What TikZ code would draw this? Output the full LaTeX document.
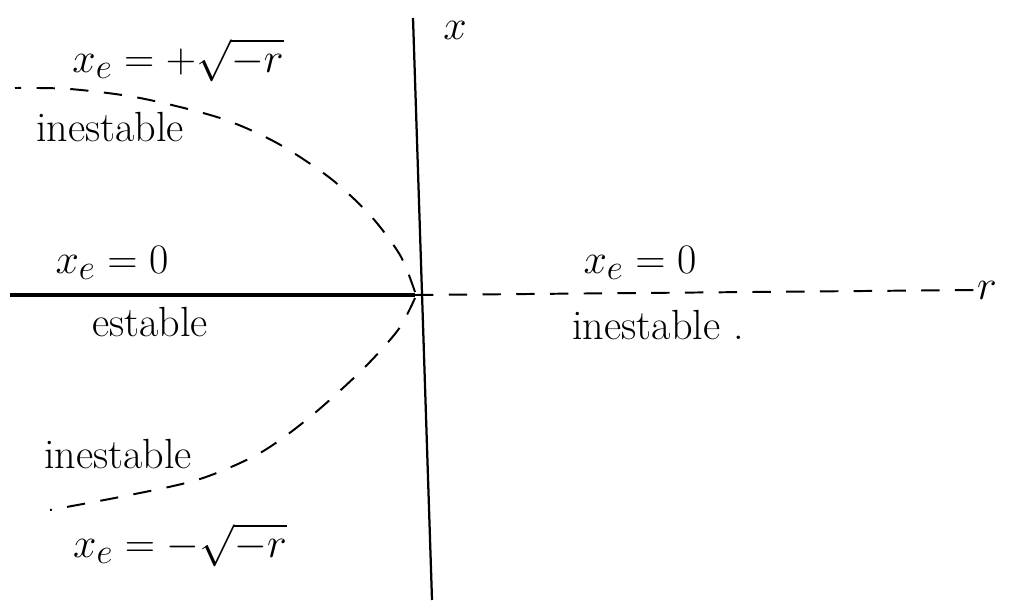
\documentclass[tikz,border=0pt]{standalone}
\usetikzlibrary{positioning}

\begin{document}
\begin{tikzpicture}[x=0.025cm, y=-0.025cm,
    lbl/.style={font=\fontsize{30}{34}\selectfont, inner sep=1pt},
    mlbl/.style={font=\fontsize{24.88}{30}\selectfont, inner sep=1pt, scale=1.2, transform shape},
    axis/.style={line width=1.6pt},
    branch/.style={line width=1.4pt, dash pattern=on 13pt off 11pt}
]
\useasboundingbox (0,0) rectangle (1010,600);

% Ejes
\coordinate (o) at (415,295);
\coordinate (xtop) at (413,18);
\coordinate (xbot) at (432,600);
\coordinate (rleft) at (10,295);
\node (xlab) [mlbl] at (455,30) {$x$};
\node (rlab) [mlbl] at (987,290) {$r$};
\draw[axis] (xtop) -- (xbot);

% Rama x_e = 0
\draw[line width=3.2pt] (rleft) -- (o);
\draw[branch] (o) -- (rlab.west);

% Ramas x_e = +-sqrt(-r)
\draw[branch] plot[smooth] coordinates {(415,292) (400,255) (370,215) (330,178) (277,143) (220,118) (140,98) (70,89) (15,88)};
\draw[branch] plot[smooth] coordinates {(415,298) (398,330) (362,370) (310,417) (260,453) (200,479) (130,495) (50,510)};

% Etiquetas
\node (up) [mlbl] at (178,60) {$x_e = +\sqrt{-r}$};
\node (upinest) [lbl] at (110,127) {inestable};
\node (zl) [mlbl] at (112,263) {$x_e = 0$};
\node (est) [lbl] at (150,322) {estable};
\node (zr) [mlbl] at (640,263) {$x_e = 0$};
\node (inest) [lbl] at (658,325) {inestable .};
\node (lowinest) [lbl] at (118,454) {inestable};
\node (low) [mlbl] at (180,545) {$x_e = -\sqrt{-r}$};

\end{tikzpicture}
\end{document}
